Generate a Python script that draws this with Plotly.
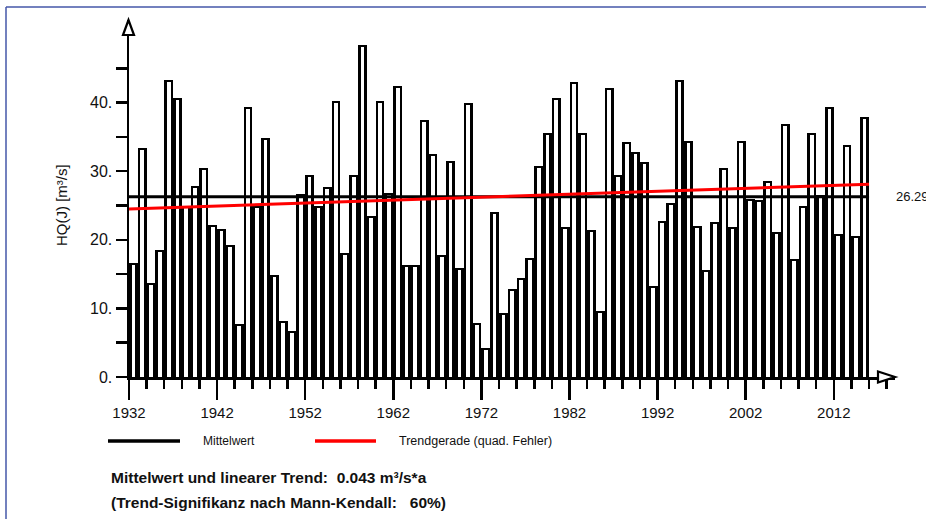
import plotly.graph_objects as go

# ---------------- data ----------------
years = list(range(1932, 2016))
hq = [16.6, 33.4, 13.7, 18.5, 43.3, 40.6, 25.0, 27.9, 30.4, 22.1,
      21.6, 19.2, 7.7, 39.4, 25.0, 34.9, 14.8, 8.1, 6.7, 26.7,
      29.5, 24.9, 27.7, 40.2, 18.1, 29.5, 48.4, 23.5, 40.3, 26.8,
      42.4, 16.4, 16.4, 37.4, 32.5, 17.8, 31.5, 15.9, 39.9, 7.8,
      4.2, 24.0, 9.4, 12.9, 14.5, 17.4, 30.7, 35.5, 40.7, 21.8,
      43.0, 35.6, 21.5, 9.6, 42.1, 29.5, 34.3, 32.8, 31.4, 13.2,
      22.8, 25.3, 43.3, 34.4, 22.0, 15.6, 22.6, 30.5, 21.9, 34.4,
      25.9, 25.8, 28.5, 21.1, 36.9, 17.2, 24.9, 35.6, 26.5, 39.3,
      20.9, 33.8, 20.5, 37.9]
mean_value = 26.29
trend_slope = 0.043  # m3/s per year
x_ticks = [1932, 1942, 1952, 1962, 1972, 1982, 1992, 2002, 2012]
y_ticks = [0, 10, 20, 30, 40]
y_ticktext = ["0.", "10.", "20.", "30.", "40."]
y_minor = [5, 15, 25, 35, 45]

# ---------------- geometry ----------------
W, H = 926, 519
L, R, T, B = 129, 895, 20, 377
PX_PER_YEAR = 8.81
PX_PER_UNIT = 6.86
x0 = years[0]
x_end = x0 + (R - L) / PX_PER_YEAR
y_top = (B - T) / PX_PER_UNIT
BORDER = 2.0 / PX_PER_UNIT      # top border thickness in data units
INNER_W = 0.42                  # white interior width (fraction of a year)


def px(xp):
    return (xp - L) / (R - L)


def py(yp):
    return (B - yp) / (B - T)


FONT = "Liberation Sans, Arial, sans-serif"
TXT = "#111111"

fig = go.Figure()

# black full-width bars (outlines)
fig.add_trace(go.Bar(x=years, y=hq, width=[1] * len(years), offset=0,
                     marker=dict(color="black", line=dict(width=0)),
                     showlegend=False, hoverinfo="skip"))
# white interiors
fig.add_trace(go.Bar(x=years, y=[v - BORDER for v in hq],
                     width=[INNER_W] * len(years), offset=(1 - INNER_W) / 2,
                     marker=dict(color="white", line=dict(width=0)),
                     showlegend=False, hoverinfo="skip"))

x_line = [years[0], years[-1] + 1]
mid = (x_line[0] + x_line[1]) / 2
fig.add_trace(go.Scatter(x=x_line, y=[mean_value, mean_value], mode="lines",
                         line=dict(color="black", width=3), showlegend=False))
fig.add_trace(go.Scatter(x=x_line,
                         y=[mean_value + trend_slope * (xx - mid) for xx in x_line],
                         mode="lines", line=dict(color="#ff0000", width=3),
                         showlegend=False))

shapes = []
# axis arrows (hollow triangles)
shapes.append(dict(type="path", xref="paper", yref="paper",
                   path=f"M {px(128.5)} {py(20)} L {px(123)} {py(35)} L {px(134)} {py(35)} Z",
                   fillcolor="white", line=dict(color="black", width=2.2), layer="above"))
shapes.append(dict(type="path", xref="paper", yref="paper",
                   path=f"M {px(895)} {py(377)} L {px(878)} {py(371.5)} L {px(878)} {py(382.5)} Z",
                   fillcolor="white", line=dict(color="black", width=2.2), layer="above"))
# legend lines
shapes.append(dict(type="line", xref="paper", yref="paper",
                   x0=px(108), x1=px(180), y0=py(441), y1=py(441),
                   line=dict(color="black", width=3.5)))
shapes.append(dict(type="line", xref="paper", yref="paper",
                   x0=px(315), x1=px(376), y0=py(441), y1=py(441),
                   line=dict(color="#ff0000", width=3.5)))
# outer frame
shapes.append(dict(type="line", xref="paper", yref="paper",
                   x0=px(6), x1=px(930), y0=py(7), y1=py(7),
                   line=dict(color="#4557a8", width=1.5)))
shapes.append(dict(type="line", xref="paper", yref="paper",
                   x0=px(6), x1=px(6), y0=py(7), y1=py(522),
                   line=dict(color="#4557a8", width=1.5)))

annotations = [
    dict(text="26.29", xref="paper", yref="y", x=px(894), y=mean_value,
         xanchor="left", yanchor="middle", showarrow=False,
         font=dict(family=FONT, size=13, color=TXT)),
    dict(text="HQ(J) [m³/s]", xref="paper", yref="paper", x=px(62), y=py(205),
         xanchor="center", yanchor="middle", textangle=-90, showarrow=False,
         font=dict(family=FONT, size=15, color=TXT)),
    dict(text="Mittelwert", xref="paper", yref="paper", x=px(201), y=py(441),
         xanchor="left", yanchor="middle", showarrow=False,
         font=dict(family=FONT, size=12, color=TXT)),
    dict(text="Trendgerade (quad. Fehler)", xref="paper", yref="paper", x=px(397), y=py(441),
         xanchor="left", yanchor="middle", showarrow=False,
         font=dict(family=FONT, size=12.5, color=TXT)),
    dict(text="<b>Mittelwert und linearer Trend:  0.043 m³/s*a</b>", xref="paper", yref="paper",
         x=px(109), y=py(478), xanchor="left", yanchor="middle", showarrow=False,
         font=dict(family=FONT, size=15.5, color=TXT)),
    dict(text="<b>(Trend-Signifikanz nach Mann-Kendall:   60%)</b>", xref="paper", yref="paper",
         x=px(109), y=py(502), xanchor="left", yanchor="middle", showarrow=False,
         font=dict(family=FONT, size=15.5, color=TXT)),
]

fig.update_layout(
    width=W, height=H,
    margin=dict(l=L, r=W - R, t=T, b=H - B),
    paper_bgcolor="white", plot_bgcolor="white",
    barmode="overlay", bargap=0,
    shapes=shapes, annotations=annotations,
    showlegend=False, hovermode=False,
    xaxis=dict(range=[x0, x_end], showgrid=False, zeroline=False,
               showline=True, linecolor="black", linewidth=2.5,
               tickmode="array", tickvals=x_ticks, ticktext=[str(v) for v in x_ticks],
               ticks="outside", ticklen=20, tickwidth=2.5, tickcolor="black",
               tickfont=dict(family=FONT, size=15, color=TXT),
               minor=dict(tick0=1932, dtick=2, ticks="outside", ticklen=9,
                          tickwidth=2.5, tickcolor="black", showgrid=False)),
    yaxis=dict(range=[0, y_top], showgrid=False, zeroline=False,
               showline=True, linecolor="black", linewidth=2.5,
               tickmode="array", tickvals=y_ticks, ticktext=y_ticktext,
               ticks="outside", ticklen=11, tickwidth=2.5, tickcolor="black",
               tickfont=dict(family=FONT, size=16, color=TXT),
               minor=dict(tickmode="array", tickvals=y_minor, ticks="outside", ticklen=11,
                          tickwidth=2.5, tickcolor="black", showgrid=False)),
)

fig.write_html("out.html", config={"displayModeBar": False, "staticPlot": True},
               post_script="document.body.style.margin='0';document.body.style.overflow='hidden';")
